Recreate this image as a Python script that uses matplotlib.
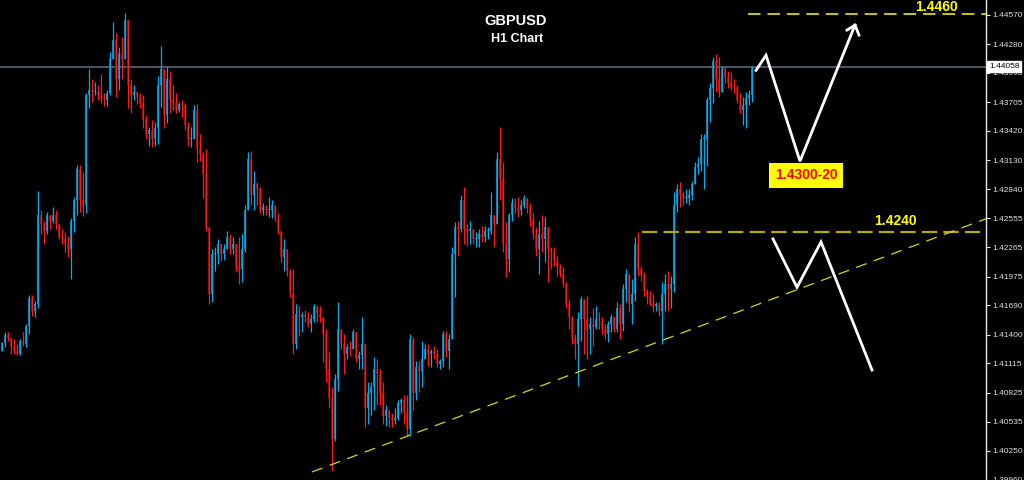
import numpy as np
import matplotlib
matplotlib.use("Agg")
import matplotlib.pyplot as plt

plt.rcParams['font.family'] = ['Liberation Sans', 'DejaVu Sans']
plt.rcParams['lines.scale_dashes'] = False

# ---------------- data (GBPUSD H1) ----------------
first_open = 1.4124
high = [1.4133,1.4143,1.4143,1.4138,1.4136,1.4131,1.4136,1.4143,1.4151,1.4179,
        1.4179,1.4173,1.4282,1.4264,1.4253,1.4262,1.4259,1.4267,1.4264,1.4250,
        1.4245,1.4242,1.4238,1.4256,1.4277,1.4308,1.4308,1.4301,1.4380,1.4403,
        1.4393,1.4391,1.4388,1.4398,1.4380,1.4383,1.4420,1.4450,1.4439,1.4425,
        1.4435,1.4459,1.4450,1.4393,1.4388,1.4381,1.4380,1.4378,1.4358,1.4346,
        1.4353,1.4351,1.4396,1.4426,1.4403,1.4405,1.4401,1.4388,1.4380,1.4371,
        1.4373,1.4370,1.4351,1.4346,1.4368,1.4369,1.4339,1.4321,1.4324,1.4245,
        1.4225,1.4227,1.4235,1.4229,1.4230,1.4243,1.4240,1.4237,1.4230,1.4237,
        1.4240,1.4269,1.4321,1.4322,1.4302,1.4291,1.4286,1.4271,1.4269,1.4277,
        1.4274,1.4269,1.4261,1.4240,1.4235,1.4220,1.4205,1.4205,1.4170,1.4168,
        1.4163,1.4165,1.4163,1.4161,1.4170,1.4168,1.4168,1.4156,1.4146,1.4123,
        1.4088,1.4101,1.4172,1.4146,1.4141,1.4131,1.4134,1.4146,1.4138,1.4124,
        1.4158,1.4131,1.4093,1.4093,1.4118,1.4116,1.4106,1.4093,1.4070,1.4065,
        1.4062,1.4067,1.4075,1.4077,1.4080,1.4080,1.4141,1.4138,1.4114,1.4114,
        1.4134,1.4131,1.4131,1.4126,1.4129,1.4126,1.4116,1.4144,1.4144,1.4141,
        1.4227,1.4252,1.4253,1.4279,1.4286,1.4250,1.4253,1.4243,1.4242,1.4245,
        1.4248,1.4248,1.4247,1.4281,1.4259,1.4321,1.4346,1.4311,1.4252,1.4261,
        1.4276,1.4276,1.4277,1.4274,1.4279,1.4276,1.4271,1.4261,1.4247,1.4253,
        1.4259,1.4257,1.4242,1.4227,1.4227,1.4218,1.4210,1.4207,1.4192,1.4175,
        1.4159,1.4141,1.4163,1.4178,1.4170,1.4178,1.4158,1.4166,1.4168,1.4163,
        1.4158,1.4151,1.4154,1.4161,1.4159,1.4172,1.4170,1.4190,1.4205,1.4200,
        1.4195,1.4237,1.4242,1.4208,1.4202,1.4185,1.4183,1.4180,1.4172,1.4172,
        1.4192,1.4200,1.4203,1.4198,1.4281,1.4289,1.4291,1.4282,1.4284,1.4284,
        1.4292,1.4311,1.4316,1.4339,1.4339,1.4376,1.4390,1.4415,1.4418,1.4415,
        1.4406,1.4406,1.4401,1.4400,1.4393,1.4388,1.4380,1.4376,1.4381,1.4383,
        1.4406]
low = [1.4124,1.4128,1.4134,1.4121,1.4121,1.4120,1.4120,1.4129,1.4128,1.4141,
       1.4159,1.4158,1.4166,1.4240,1.4230,1.4240,1.4245,1.4251,1.4245,1.4235,
       1.4230,1.4222,1.4217,1.4195,1.4242,1.4259,1.4262,1.4258,1.4261,1.4365,
       1.4371,1.4378,1.4373,1.4370,1.4367,1.4367,1.4378,1.4413,1.4376,1.4383,
       1.4393,1.4423,1.4365,1.4360,1.4373,1.4369,1.4365,1.4345,1.4334,1.4327,
       1.4326,1.4327,1.4329,1.4366,1.4345,1.4350,1.4360,1.4363,1.4360,1.4361,
       1.4356,1.4343,1.4327,1.4326,1.4337,1.4311,1.4312,1.4276,1.4243,1.4170,
       1.4172,1.4203,1.4210,1.4213,1.4214,1.4227,1.4220,1.4220,1.4202,1.4190,
       1.4192,1.4222,1.4267,1.4269,1.4264,1.4269,1.4261,1.4259,1.4259,1.4257,
       1.4256,1.4253,1.4240,1.4212,1.4203,1.4198,1.4177,1.4121,1.4126,1.4139,
       1.4143,1.4153,1.4148,1.4143,1.4153,1.4153,1.4153,1.4113,1.4093,1.4067,
       1.4005,1.4035,1.4084,1.4126,1.4101,1.4116,1.4119,1.4129,1.4113,1.4106,
       1.4106,1.4049,1.4052,1.4060,1.4065,1.4070,1.4070,1.4052,1.4050,1.4049,
       1.4049,1.4052,1.4055,1.4062,1.4052,1.4040,1.4040,1.4065,1.4075,1.4083,
       1.4088,1.4118,1.4109,1.4108,1.4116,1.4108,1.4106,1.4108,1.4118,1.4106,
       1.4141,1.4177,1.4218,1.4242,1.4230,1.4228,1.4230,1.4230,1.4227,1.4227,
       1.4232,1.4232,1.4235,1.4240,1.4227,1.4253,1.4274,1.4222,1.4197,1.4202,
       1.4253,1.4261,1.4257,1.4259,1.4266,1.4261,1.4248,1.4235,1.4218,1.4200,
       1.4222,1.4212,1.4192,1.4205,1.4208,1.4198,1.4197,1.4187,1.4166,1.4146,
       1.4131,1.4116,1.4089,1.4134,1.4121,1.4116,1.4121,1.4129,1.4146,1.4146,
       1.4141,1.4136,1.4133,1.4143,1.4143,1.4143,1.4136,1.4144,1.4172,1.4163,
       1.4151,1.4173,1.4198,1.4193,1.4178,1.4170,1.4168,1.4163,1.4164,1.4159,
       1.4131,1.4164,1.4164,1.4166,1.4182,1.4262,1.4267,1.4269,1.4271,1.4269,
       1.4274,1.4289,1.4299,1.4302,1.4284,1.4307,1.4351,1.4370,1.4381,1.4376,
       1.4383,1.4390,1.4385,1.4383,1.4380,1.4370,1.4360,1.4348,1.4345,1.4368,
       1.4371]
close = [1.4132,1.4140,1.4137,1.4128,1.4124,1.4121,1.4134,1.4131,1.4149,1.4176,
         1.4164,1.4170,1.4259,1.4250,1.4243,1.4259,1.4253,1.4259,1.4250,1.4237,
         1.4235,1.4230,1.4225,1.4253,1.4274,1.4304,1.4274,1.4269,1.4378,1.4383,
         1.4381,1.4381,1.4378,1.4375,1.4373,1.4380,1.4413,1.4432,1.4393,1.4418,
         1.4413,1.4452,1.4388,1.4378,1.4381,1.4376,1.4370,1.4353,1.4339,1.4343,
         1.4334,1.4345,1.4388,1.4403,1.4358,1.4393,1.4373,1.4370,1.4363,1.4369,
         1.4368,1.4348,1.4334,1.4334,1.4363,1.4324,1.4319,1.4299,1.4247,1.4180,
         1.4220,1.4220,1.4230,1.4220,1.4225,1.4237,1.4225,1.4230,1.4207,1.4205,
         1.4225,1.4264,1.4314,1.4279,1.4289,1.4284,1.4264,1.4267,1.4264,1.4264,
         1.4269,1.4256,1.4243,1.4217,1.4225,1.4203,1.4180,1.4131,1.4161,1.4158,
         1.4160,1.4158,1.4151,1.4156,1.4168,1.4161,1.4158,1.4141,1.4106,1.4077,
         1.4037,1.4096,1.4146,1.4131,1.4121,1.4128,1.4126,1.4143,1.4116,1.4120,
         1.4131,1.4067,1.4082,1.4088,1.4106,1.4101,1.4082,1.4059,1.4065,1.4057,
         1.4055,1.4057,1.4072,1.4075,1.4062,1.4047,1.4136,1.4082,1.4108,1.4104,
         1.4116,1.4126,1.4121,1.4124,1.4121,1.4111,1.4114,1.4141,1.4124,1.4136,
         1.4220,1.4247,1.4245,1.4274,1.4245,1.4243,1.4245,1.4235,1.4235,1.4240,
         1.4237,1.4243,1.4243,1.4259,1.4250,1.4314,1.4294,1.4230,1.4215,1.4259,
         1.4271,1.4266,1.4264,1.4269,1.4276,1.4266,1.4255,1.4240,1.4225,1.4240,
         1.4235,1.4247,1.4225,1.4223,1.4213,1.4207,1.4200,1.4190,1.4170,1.4158,
         1.4136,1.4131,1.4156,1.4175,1.4156,1.4146,1.4151,1.4148,1.4156,1.4154,
         1.4146,1.4141,1.4151,1.4158,1.4146,1.4166,1.4151,1.4185,1.4200,1.4170,
         1.4180,1.4230,1.4205,1.4200,1.4183,1.4177,1.4170,1.4168,1.4170,1.4164,
         1.4180,1.4190,1.4185,1.4190,1.4269,1.4284,1.4279,1.4276,1.4276,1.4279,
         1.4289,1.4306,1.4309,1.4334,1.4334,1.4373,1.4385,1.4411,1.4393,1.4381,
         1.4403,1.4395,1.4390,1.4386,1.4385,1.4373,1.4363,1.4368,1.4375,1.4378,
         1.44058]

last_price = 1.44058
price_ticks = [1.44570, 1.44280, 1.43995, 1.43705, 1.43420, 1.43130, 1.42840,
               1.42555, 1.42265, 1.41975, 1.41690, 1.41400, 1.41115, 1.40825,
               1.40535, 1.40250, 1.39960]

# analyst drawings
level_top = 1.4458
level_top_label = "1.4460"
level_mid = 1.4242
level_mid_label = "1.4240"
trend_x = [312, 986]
trend_y = [1.4004, 1.4255]
up_path_x = [756, 766, 800, 855]
up_path_y = [1.4402, 1.4417, 1.4312, 1.4447]
head_x = [847, 855, 859]
head_y = [1.4442, 1.4447, 1.4437]
down_path_x = [773, 797, 821, 872]
down_path_y = [1.4235, 1.4187, 1.4232, 1.4105]
target_label = "1.4300-20"
target_x, target_y = 806, 1.4298

# ---------------- figure ----------------
W, H = 1024, 480
fig = plt.figure(figsize=(W / 100, H / 100), dpi=100, facecolor='black')
ax = fig.add_axes([0, 0, 986 / W, 1])
ax.set_facecolor('black')
ax.set_xlim(0, 986)
ax.set_ylim(1.39973, 1.44718)

high = np.array(high); low = np.array(low); close = np.array(close)
n = len(close)
opens = np.concatenate([[first_open], close[:-1]])
hi = np.maximum.reduce([high, opens, close])
lo = np.minimum.reduce([low, opens, close])
x = np.arange(n) * 3 + 1.5
up = close >= opens

BULL_WICK, BULL_BODY = '#00AEEF', '#1A7CA6'
BEAR_WICK, BEAR_BODY = '#FF1A1A', '#A80000'

bottom = np.minimum(opens, close)
height = np.maximum(np.abs(close - opens), 0.00009)
ax.bar(x[up] + 0.9, height[up], bottom=bottom[up], width=2.0,
       color=BULL_BODY, linewidth=0, zorder=2)
ax.bar(x[~up] + 0.9, height[~up], bottom=bottom[~up], width=2.0,
       color=BEAR_BODY, linewidth=0, zorder=2)
ax.vlines(x[up], lo[up], hi[up], color=BULL_WICK, lw=0.9, zorder=3)
ax.vlines(x[~up], lo[~up], hi[~up], color=BEAR_WICK, lw=0.9, zorder=3)

# last price line
ax.axhline(last_price, color='#5C6E84', lw=1.1, zorder=1)

# levels
ax.plot([748, 986], [level_top, level_top], color='#D8D800', lw=1.3,
        ls=(0, (9, 5)), zorder=4)
ax.text(937, 1.4465, level_top_label, color='#FFFF00', fontsize=10,
        fontweight='bold', ha='center', va='center', zorder=6)
ax.plot([642, 986], [level_mid, level_mid], color='#B4AC00', lw=1.6,
        ls=(0, (11, 4.5)), zorder=4)
ax.text(895, 1.4253, level_mid_label, color='#FFFF00', fontsize=10,
        fontweight='bold', ha='center', va='center', zorder=6)
ax.plot(trend_x, trend_y, color='#D8D800', lw=0.9, ls=(0, (8, 5.5)), zorder=4)

# arrows
ax.plot(up_path_x, up_path_y, color='white', lw=2.0, solid_joinstyle='miter', zorder=5)
ax.plot(head_x, head_y, color='white', lw=2.0, zorder=5)
ax.plot(down_path_x, down_path_y, color='white', lw=2.0, solid_joinstyle='miter', zorder=5)

ax.text(target_x, target_y, target_label, color='#FF0000', fontsize=10,
        fontweight='bold', ha='center', va='center', zorder=6,
        bbox=dict(boxstyle='square,pad=0.38', fc='#FFFF00', ec='none'))

# axis styling
for s in ['top', 'left', 'bottom']:
    ax.spines[s].set_visible(False)
ax.spines['right'].set_color('#E8E8E8')
ax.spines['right'].set_linewidth(1.0)
ax.set_xticks([])
ax.yaxis.tick_right()
ax.set_yticks(price_ticks)
ax.set_yticklabels([f"{v:.5f}" for v in price_ticks])
ax.tick_params(axis='y', colors='#E8E8E8', labelcolor='#E0E0E0', length=3,
               width=0.8, labelsize=6, pad=1.5)

ax.text(1.003, last_price, f"{last_price:.5f}", transform=ax.get_yaxis_transform(),
        fontsize=6, color='black', ha='left', va='center', clip_on=False, zorder=10,
        bbox=dict(boxstyle='square,pad=0.2', fc='white', ec='white'))

fig.text(516 / W, 1 - 21 / H, "GBPUSD", color='white', fontsize=10.5,
         fontweight='bold', ha='center', va='center')
fig.text(517 / W, 1 - 39 / H, "H1 Chart", color='white', fontsize=9,
         fontweight='bold', ha='center', va='center')

fig.savefig('out.png', dpi=100, facecolor='black')
